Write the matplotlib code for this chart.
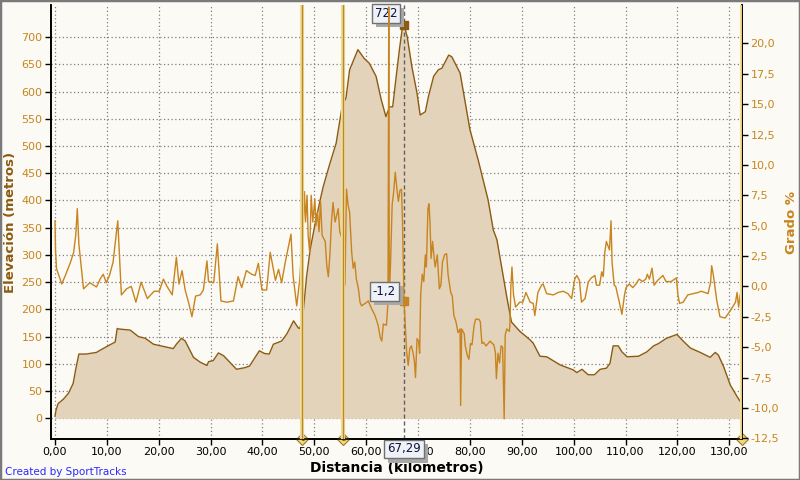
import matplotlib
matplotlib.use('Agg')
import matplotlib.pyplot as plt
import matplotlib.transforms as mtransforms
import matplotlib.patheffects as pe
from matplotlib.patches import Rectangle
from matplotlib.ticker import FuncFormatter, MultipleLocator

# elevation profile (km, metros)
ELEV_KM = [0, 0.2, 0.6, 1.6, 2.6, 3.5, 4.0, 4.6, 6.0, 8.0, 8.7, 10.6, 11.6, 12.0, 12.3, 14.5, 16.1,
           17.4, 19.0, 20.9, 22.8, 23.4, 24.4, 25.1, 26.7, 28.0, 29.3, 29.6, 30.5, 31.5, 32.5, 35.0,
           36.6, 37.5, 39.4, 40.4, 41.3, 42.1, 43.7, 44.7, 46.0, 46.9, 47.2, 47.8, 48.5, 49.2, 50.1,
           51.1, 51.7, 53.0, 54.2, 55.4, 56.1, 56.8, 58.4, 59.6, 60.6, 61.9, 62.9, 63.8, 64.5, 65.1,
           65.7, 66.4, 67.0, 67.29, 67.9, 68.8, 69.8, 70.4, 71.4, 72.0, 73.0, 73.9, 74.6, 75.9, 76.5,
           78.1, 79.0, 80.0, 81.6, 83.5, 84.5, 85.2, 87.1, 88.0, 89.6, 91.6, 92.2, 93.5, 94.8, 97.4,
           99.9, 100.6, 101.6, 102.8, 104.0, 105.1, 106.3, 107.0, 107.6, 108.6, 109.3, 110.3, 112.5,
           114.1, 115.4, 116.3, 117.9, 119.9, 121.2, 122.5, 124.4, 126.3, 127.3, 127.9, 128.9, 130.2,
           131.5, 132.3]
ELEV_M = [4, 15, 27, 35, 46, 64, 90, 118, 118, 121, 125, 135, 140, 165, 164, 162, 150,
          147, 136, 132, 128, 136, 147, 142, 112, 103, 97, 104, 106, 120, 115, 90,
          93, 96, 124, 119, 118, 136, 142, 155, 179, 166, 165, 190, 260, 310, 355,
          400, 425, 468, 505, 575, 588, 640, 677, 661, 652, 628, 585, 554, 572, 572,
          621, 677, 719, 722, 701, 646, 597, 557, 563, 591, 628, 640, 643, 667, 664,
          634, 585, 530, 474, 401, 346, 328, 223, 177, 160, 144, 138, 114, 113, 98,
          89, 84, 90, 80, 80, 90, 92, 101, 133, 133, 122, 113, 114,
          122, 133, 137, 147, 154, 141, 129, 121, 112, 121, 116, 95, 61,
          40, 28]

# grade (km, %)
GRADE_KM = [0.0, 0.1, 0.3, 1.3, 2.0, 3.0, 3.6, 4.0, 4.3, 4.6, 5.5, 6.7, 8.0, 8.7, 9.3, 9.9, 10.5,
            11.2, 12.1, 12.8, 13.8, 14.7, 15.6, 16.6, 17.8, 19.1, 20.1, 20.9, 21.6, 22.6, 23.4,
            23.9, 24.5, 25.1, 25.8, 26.4, 27.1, 28.0, 28.6, 29.3, 29.6, 30.6, 31.3, 32.0, 33.1,
            34.4, 35.3, 36.0, 36.9, 37.9, 38.6, 39.2, 39.9, 40.8, 41.5, 42.5, 43.1, 43.7, 44.4,
            45.3, 45.5, 45.9, 46.6, 47.2, 47.9, 48.1, 48.3, 48.6, 48.8, 49.1, 49.4, 49.7, 50.1,
            50.3, 50.6, 50.9, 51.2, 51.5, 52.1, 52.4, 52.7, 53.0, 53.3, 53.6, 54.0, 54.6, 54.9,
            55.3, 55.9, 56.2, 56.5, 56.8, 57.2, 57.5, 57.8, 58.1, 58.5, 58.8, 59.1, 59.8, 60.4,
            61.0, 61.7, 62.3, 62.7, 63.0, 63.3, 63.9, 64.2, 64.35, 64.45, 64.7, 65.0, 65.3, 65.6,
            65.9, 66.2, 66.5, 66.8, 67.0, 67.29, 67.5, 67.8, 68.1, 68.4, 68.7, 69.0, 69.3, 69.5,
            69.8, 70.1, 70.3, 70.5, 70.8, 71.1, 71.4, 71.6, 71.9, 72.1, 72.3, 72.5, 72.8, 73.1,
            73.3, 73.7, 74.1, 74.4, 74.7, 75.1, 75.5, 75.8, 76.3, 76.6, 76.9, 77.3, 77.7, 78.1,
            78.2, 78.4, 78.9, 79.1, 79.5, 79.8, 80.1, 80.4, 80.8, 81.1, 81.7, 82.0, 82.3, 82.6,
            83.1, 83.5, 83.9, 84.3, 84.6, 84.9, 85.1, 85.4, 85.7, 86.0, 86.3, 86.6, 86.8, 87.1,
            87.6, 87.7, 87.9, 88.1, 88.4, 88.8, 89.2, 89.6, 90.2, 90.8, 91.6, 92.2, 92.5, 93.1,
            93.8, 94.1, 94.8, 96.1, 97.0, 98.0, 98.9, 99.6, 100.2, 100.6, 101.1, 101.5, 102.2,
            102.8, 103.4, 104.1, 104.4, 105.0, 105.4, 105.7, 106.0, 106.3, 106.9, 107.2, 107.4,
            107.8, 108.1, 108.8, 109.3, 109.8, 110.1, 110.7, 111.4, 112.0, 112.6, 113.3, 113.9,
            114.2, 114.6, 115.1, 115.5, 116.2, 117.2, 117.8, 118.8, 119.8, 120.1, 120.4, 121.1,
            122.0, 123.0, 124.0, 124.6, 125.3, 125.9, 126.4, 126.6, 126.9, 127.6, 128.2, 129.2,
            130.2, 131.2, 131.5, 131.8, 132.1]
GRADE_PCT = [5.4, 3.0, 1.45, 0.2, 0.9, 2.0, 2.8, 4.2, 6.4, 3.5, -0.2, 0.3, -0.05, 0.6, 1.0, 0.3, 0.9,
             2.0, 5.4, -0.7, -0.2, 0.0, -1.3, 0.35, -1.0, -0.4, -0.4, 0.6, 0.0, -0.7, 2.4,
             0.2, 1.3, -0.3, -1.4, -2.5, -0.8, -0.7, -0.3, 2.1, 0.4, 0.3, 3.5, -1.2, -1.3,
             -1.2, 0.8, -0.1, 1.3, 1.0, 0.9, 1.9, -0.3, -0.3, 2.8, 0.5, 1.4, 0.3, 2.0,
             3.9, 4.3, 0.9, -1.6, 0.6, 5.6, 7.8, 5.3, 7.5, 4.2, 2.8, 7.5, 5.3, 7.2,
             5.0, 6.1, 4.5, 7.0, 4.2, 3.7, 1.7, 0.8, 2.6, 5.3, 6.9, 5.3, 6.4, 4.5,
             4.0, 0.1, 8.0, 6.7, 6.1, 2.8, 1.5, 2.0, 0.6, -0.2, -1.3, -1.6, -1.4, -1.2,
             -1.8, -2.4, -3.2, -4.2, -4.5, -3.1, -3.2, -1.3, 23.0, -1.0, 2.0, 6.7, 7.8, 9.4,
             8.1, 7.0, 7.9, 8.0, 5.3, -1.2, -3.0, -5.4, -6.5, -5.1, -4.9, -5.4, -6.2, -7.5,
             -4.3, -4.5, -5.5, -0.7, 1.0, 0.4, 2.6, 1.6, 6.4, 6.8, 5.3, 2.3, 3.7, 2.3,
             1.6, 2.6, -0.2, 0.1, 2.0, 2.6, 2.7, 0.9, -0.5, -0.8, -2.4, -2.9, -3.8, -3.5,
             -9.8, -3.5, -3.9, -4.9, -5.7, -6.0, -4.7, -4.8, -3.2, -2.7, -2.7, -2.9, -4.7, -4.6,
             -4.9, -4.7, -4.5, -4.7, -4.8, -5.4, -7.6, -5.5, -6.3, -4.9, -5.0, -10.9, -4.0, -3.5,
             -3.7, -3.2, 0.1, 1.6, -0.7, -1.7, -1.5, -1.3, -1.3, -0.5, -1.3, -1.4, -2.4, -0.5,
             0.1, 0.2, -0.6, -0.7, -0.5, -0.4, -0.6, -1.0, 0.6, 0.9, 0.5, -1.3, -1.0,
             0.35, 0.7, 0.9, 0.1, 0.1, 1.2, 0.8, 2.8, 3.7, 3.0, 5.4, 2.0,
             0.1, 0.0, -1.3, -2.3, -0.7, -0.1, 0.2, -0.1, 0.2, 0.6, 0.4, 0.6,
             1.0, 0.6, 1.5, 0.1, 0.5, 0.9, 0.4, 0.4, 0.7, -0.7, -1.4, -1.3,
             -0.7, -0.6, -0.5, -0.4, -0.5, -0.6, 0.35, 1.7, 1.0, -1.2, -2.5, -2.6,
             -2.0, -1.3, -0.5, -1.7, -0.7]

MARKERS_KM = [47.7, 55.6, 132.4]
MARKER_LABELS = ['1', '2', '']
CURSOR_KM = 67.29
CURSOR_ELEV = 722
CURSOR_GRADE = -1.2

BG = '#fbfaf5'
FILL = '#e3d3bb'
EDGE = '#8c5a12'
ORANGE = '#c8841e'


def comma(v, decimals):
    return ('{:.%df}' % decimals).format(v).replace('.', ',')


fig = plt.figure(figsize=(8, 4.8), dpi=100, facecolor=BG)
ax = fig.add_axes([51 / 800, 1 - 439 / 480, 691 / 800, 434 / 480])
ax.set_facecolor(BG)
ax2 = ax.twinx()

ax.set_xlim(-0.77, 132.45)
ax.set_ylim(-38, 759)
ax2.set_ylim(-12.56, 23.16)

ax.fill_between(ELEV_KM, 0, ELEV_M, color=FILL, lw=0, zorder=1)
ax.plot(ELEV_KM, ELEV_M, color=EDGE, lw=1.0, zorder=2)
ax2.plot(GRADE_KM, GRADE_PCT, color=ORANGE, lw=1.0, zorder=3)

# grid
ax.xaxis.set_major_locator(MultipleLocator(10))
ax.set_yticks(range(0, 701, 50))
ax.grid(True, color='#808080', ls=(0, (1, 2)), lw=0.9)
ax.set_axisbelow(True)
ax2.set_yticks([-12.5 + 2.5 * i for i in range(14)])

ax.xaxis.set_major_formatter(FuncFormatter(lambda v, p: comma(v, 2)))
ax.yaxis.set_major_formatter(FuncFormatter(lambda v, p: '%d' % v))
ax2.yaxis.set_major_formatter(FuncFormatter(lambda v, p: comma(v, 1)))

ax.tick_params(axis='x', labelsize=8, colors='black', length=4, width=1, pad=2)
ax.tick_params(axis='y', labelsize=8, labelcolor=ORANGE, color='black', length=4, width=1, pad=2)
ax2.tick_params(axis='y', labelsize=8, labelcolor=ORANGE, color='black', length=4, width=1, pad=2)

for a in (ax, ax2):
    a.spines['top'].set_visible(False)
    a.spines['left'].set_linewidth(1.2)
    a.spines['bottom'].set_linewidth(1.2)
    a.spines['right'].set_linewidth(1.2)

ax.set_xlabel('Distancia (kilómetros)', fontsize=10, fontweight='bold', labelpad=3)
ax.set_ylabel('Elevación (metros)', fontsize=9.5, fontweight='bold', color=EDGE, labelpad=3)
ax2.set_ylabel('Grado %', fontsize=9.5, fontweight='bold', color=ORANGE, labelpad=4)

# lap markers
for km, lab in zip(MARKERS_KM, MARKER_LABELS):
    ax2.axvline(km, color='#f3dc94', lw=3.0, zorder=4)
    ax2.axvline(km, color='#b88a30', lw=1.0, zorder=5)
    ax.plot([km], [-38], marker='D', ms=6.5, mfc='#f6d870', mec='#9a7a30', mew=0.8,
            clip_on=False, zorder=10)
    if lab:
        ax.text(km, -38, lab, fontsize=5, ha='center', va='center', color='#5a4010',
                clip_on=False, zorder=11)

# cursor
ax.axvline(CURSOR_KM, color='#606060', ls=(0, (3, 2)), lw=1.0, zorder=6)
ax.plot([CURSOR_KM], [CURSOR_ELEV], marker='s', ms=6, color='#8c5a12', zorder=12)
ax2.plot([CURSOR_KM], [CURSOR_GRADE], marker='s', ms=6, color=ORANGE, zorder=12)


def label(axis, x, y, s, transform=None):
    tr = transform if transform is not None else axis.transData
    t = axis.text(x, y, s, transform=tr, fontsize=8.5, ha='center', va='center',
                  color='#101040', zorder=14, clip_on=False,
                  bbox=dict(boxstyle='square,pad=0.25', fc='#eef2f6', ec='#707070', lw=1))
    t.get_bbox_patch().set_path_effects([
        pe.SimplePatchShadow(offset=(3, -3), shadow_rgbFace='#a8a8a8', alpha=1.0),
        pe.Normal()])


label(ax, 63.8, 743, comma(CURSOR_ELEV, 0))
label(ax2, 63.5, -0.4, comma(CURSOR_GRADE, 1))
label(ax, CURSOR_KM, -0.023, comma(CURSOR_KM, 2),
      transform=mtransforms.blended_transform_factory(ax.transData, ax.transAxes))

fig.text(5 / 800, 1 - 472 / 480, 'Created by SportTracks', fontsize=7.5, color='#2a2aff',
         ha='left', va='center')
fig.patches.append(Rectangle((0, 0), 1, 1, transform=fig.transFigure, fill=False,
                             ec='#7a7a7a', lw=2.5))

fig.savefig('out.png', dpi=100, facecolor=BG)
